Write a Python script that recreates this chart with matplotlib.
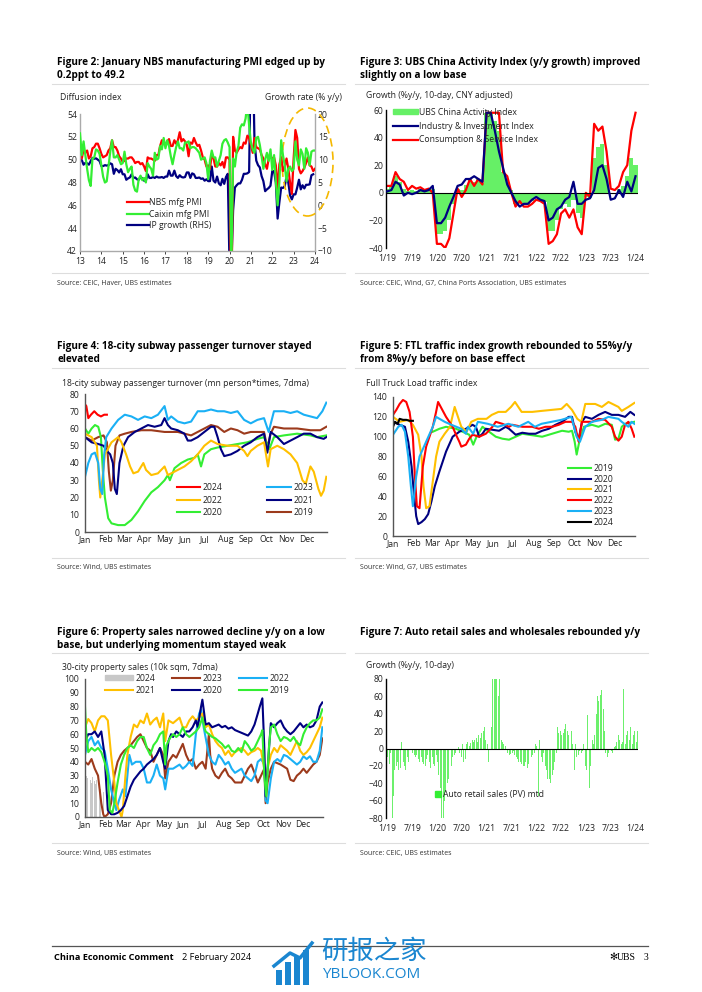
import numpy as np
import matplotlib
matplotlib.use("Agg")
import matplotlib.pyplot as plt
from matplotlib.lines import Line2D
from matplotlib.patches import Ellipse, Patch, Rectangle

plt.rcParams['font.family'] = ['Open Sans', 'DejaVu Sans']

# ---------------- data ----------------
# Fig 2: monthly, Jan 2013 .. Jan 2024
nbs_pmi = [50.4, 50.1, 50.9, 50.6, 50.8, 50.1, 50.3, 51.0, 51.1, 51.4, 51.4, 51.0,
           50.5, 50.2, 50.3, 50.4, 50.8, 51.0, 51.7, 51.1, 51.1, 50.8, 50.3, 50.1,
           49.8, 49.9, 50.1, 50.1, 50.2, 50.2, 50.0, 49.7, 49.8, 49.8, 49.6, 49.7,
           49.4, 49.0, 50.2, 50.1, 50.1, 50.0, 49.9, 50.4, 50.4, 51.2, 51.7, 51.4,
           51.3, 51.6, 51.8, 51.2, 51.2, 51.7, 51.4, 51.7, 52.4, 51.6, 51.8, 51.6,
           51.3, 50.3, 51.5, 51.4, 51.9, 51.5, 51.2, 51.3, 50.8, 50.2, 50.0, 49.4,
           49.5, 49.2, 50.5, 50.1, 49.4, 49.4, 49.7, 49.5, 49.8, 49.3, 50.2, 50.2,
           50.0, 35.7, 52.0, 50.8, 50.6, 50.9, 51.1, 51.0, 51.5, 51.4, 52.1, 51.9,
           51.3, 50.6, 51.9, 51.1, 51.0, 50.9, 50.4, 50.1, 49.6, 49.2, 50.1, 50.3,
           50.1, 50.2, 49.5, 47.4, 49.6, 50.2, 49.0, 49.4, 50.1, 49.2, 48.0, 47.0,
           50.1, 52.6, 51.9, 49.2, 48.8, 49.0, 49.3, 49.7, 50.2, 49.5, 49.4, 49.0,
           49.2]
caixin_pmi = [52.3, 50.4, 51.6, 50.4, 49.2, 48.2, 47.7, 50.1, 50.2, 50.9, 50.8, 50.5,
              49.5, 48.5, 48.0, 48.1, 49.4, 50.7, 51.7, 50.2, 50.2, 50.4, 50.0, 49.6,
              49.7, 50.7, 49.6, 48.9, 49.2, 49.4, 47.8, 47.3, 47.2, 48.3, 48.6, 48.2,
              48.4, 48.0, 49.7, 49.4, 49.2, 48.6, 50.6, 50.0, 50.1, 51.2, 50.9, 51.9,
              51.0, 51.7, 51.2, 50.3, 49.6, 50.4, 51.1, 51.6, 51.0, 51.0, 50.8, 51.5,
              51.5, 51.6, 51.0, 51.1, 51.1, 51.0, 50.8, 50.6, 50.0, 50.1, 50.2, 49.7,
              48.3, 49.9, 50.8, 50.2, 50.2, 49.4, 49.9, 50.4, 51.4, 51.7, 51.8, 51.5,
              51.1, 40.3, 50.1, 49.4, 50.7, 51.2, 52.8, 53.1, 53.0, 53.6, 54.9, 53.0,
              51.5, 50.9, 50.6, 51.9, 52.0, 51.3, 50.3, 49.2, 50.0, 50.6, 49.9, 50.9,
              49.1, 50.4, 48.1, 46.0, 48.1, 51.7, 50.4, 49.5, 48.1, 49.2, 49.4, 49.0,
              49.2, 51.6, 50.0, 49.5, 50.9, 50.5, 49.2, 51.0, 50.6, 49.5, 50.7, 50.8,
              50.8]
ip_growth = [9.9, 9.9, 8.9, 9.3, 9.2, 8.9, 9.7, 10.4, 10.2, 10.3, 10.0, 9.7,
             8.6, 8.6, 8.8, 8.7, 8.8, 9.2, 9.0, 6.9, 8.0, 7.7, 7.2, 7.9,
             6.8, 6.8, 5.6, 5.9, 6.1, 6.8, 6.0, 6.1, 5.7, 5.6, 6.2, 5.9,
             5.4, 5.4, 6.8, 6.0, 6.0, 6.2, 6.0, 6.3, 6.1, 6.1, 6.2, 6.0,
             6.3, 6.3, 7.6, 6.5, 6.5, 7.6, 6.4, 6.0, 6.6, 6.2, 6.1, 6.2,
             7.2, 7.2, 6.0, 7.0, 6.8, 6.0, 6.0, 6.1, 5.8, 5.9, 5.4, 5.7,
             5.3, 5.3, 8.5, 5.4, 5.0, 6.3, 4.8, 4.4, 5.8, 4.7, 6.2, 6.9,
             -13.5, -13.5, -1.1, 3.9, 4.4, 4.8, 4.8, 5.6, 6.9, 6.9, 7.0, 7.3,
             35.1, 35.1, 14.1, 9.8, 8.8, 8.3, 6.4, 5.3, 3.1, 3.5, 3.8, 4.3,
             7.5, 7.5, 5.0, -2.9, 0.7, 3.9, 3.8, 4.2, 6.3, 5.0, 2.2, 1.3,
             2.4, 2.4, 3.9, 5.6, 3.5, 4.4, 3.7, 4.5, 4.5, 4.6, 6.6, 6.8]
pmi_years = [str(y) for y in range(13, 25)]

# Fig 3: monthly, Jan 2019 .. Jan 2024
activity_idx = [3, 5, 12, 8, 3, 1, 2, 1, 3, 2, 2, 3,
                -30, -30, -28, -20, -8, 3, 2, 6, 10, 8, 10, 7,
                58, 58, 52, 45, 15, 10, 2, -8, -8, -9, -9, -6,
                -4, -5, -7, -28, -28, -20, -12, -8, -10, -5, -15, -18,
                -3, -4, 25, 33, 35, 20, 0, -1, 3, 5, 12, 25, 20]
industry_idx = [1, 2, 8, 6, -2, 0, -1, 0, 2, 1, 2, 5,
                -22, -22, -18, -10, -3, 5, 6, 10, 10, 12, 10, 8,
                58, 58, 45, 30, 18, 6, 0, -6, -10, -8, -8, -5,
                -3, -5, -6, -20, -18, -12, -10, -5, -3, 8, -8, -8,
                -5, -4, 2, 18, 20, 10, -5, -4, 2, -3, 8, 1, 12]
consumption_idx = [5, 5, 15, 10, 8, 2, 5, 3, 4, 2, 3, 0,
                   -37, -37, -40, -33, -15, 3, -3, 2, 10, 5, 10, 6,
                   58, 58, 58, 58, 15, 12, 0, -10, -6, -10, -10, -8,
                   -5, -6, -8, -37, -35, -30, -15, -12, -18, -12, -25, -30,
                   0, -3, 50, 45, 48, 30, 3, 2, 5, 15, 20, 45, 58]
ym_labels = ['1/19', '7/19', '1/20', '7/20', '1/21', '7/21', '1/22', '7/22', '1/23', '7/23', '1/24']

# Fig 4-6: (day of year, value)
month_names = ['Jan', 'Feb', 'Mar', 'Apr', 'May', 'Jun', 'Jul', 'Aug', 'Sep', 'Oct', 'Nov', 'Dec']
month_start = [0, 31, 59, 90, 120, 151, 181, 212, 243, 273, 304, 334]

subway_2024 = [(0, 74), (2, 73), (5, 66), (9, 68), (14, 70), (19, 68), (24, 67), (29, 68), (33, 68)]
subway_2023 = [(0, 32), (5, 40), (10, 45), (15, 46), (20, 40), (23, 25), (26, 22), (29, 45), (32, 55),
               (40, 60), (50, 65), (60, 68), (70, 67), (80, 65), (90, 67), (100, 66), (110, 68), (120, 73),
               (125, 65), (130, 67), (140, 64), (150, 63), (160, 64), (170, 70), (180, 70), (190, 71),
               (200, 70), (210, 70), (220, 69), (230, 70), (240, 65), (250, 63), (260, 65), (270, 66),
               (277, 58), (285, 70), (300, 70), (310, 69), (320, 70), (330, 68), (340, 67), (350, 66),
               (358, 70), (364, 75)]
subway_2022 = [(0, 57), (10, 55), (18, 50), (21, 30), (23, 20), (26, 30), (30, 45), (40, 52), (50, 55),
               (55, 52), (62, 45), (68, 38), (73, 34), (80, 35), (88, 40), (92, 36), (100, 33), (110, 34),
               (120, 38), (125, 33), (135, 35), (150, 38), (160, 41), (170, 45), (180, 50), (190, 53),
               (200, 51), (215, 50), (230, 50), (240, 47), (245, 44), (250, 47), (260, 50), (270, 52),
               (276, 38), (280, 48), (290, 50), (300, 48), (310, 45), (320, 40), (328, 30), (333, 28),
               (340, 38), (345, 35), (352, 25), (356, 21), (360, 24), (364, 32)]
subway_2021 = [(0, 55), (10, 52), (20, 51), (28, 50), (33, 47), (38, 45), (42, 40), (45, 25), (48, 22),
               (52, 40), (58, 50), (65, 55), (75, 58), (85, 60), (95, 62), (105, 61), (115, 62), (120, 66),
               (125, 62), (130, 60), (140, 59), (150, 57), (155, 53), (160, 53), (170, 55), (180, 58),
               (190, 61), (195, 61), (200, 55), (205, 48), (210, 44), (220, 45), (230, 47), (240, 50),
               (250, 52), (260, 55), (270, 57), (275, 46), (280, 58), (290, 55), (300, 51), (310, 53),
               (320, 55), (330, 57), (340, 57), (350, 55), (360, 54), (364, 55)]
subway_2020 = [(0, 60), (5, 57), (10, 60), (15, 62), (20, 61), (24, 55), (27, 35), (30, 20), (35, 8),
               (40, 5), (50, 4), (60, 4), (70, 7), (80, 12), (90, 18), (100, 23), (110, 26), (115, 28),
               (120, 30), (125, 33), (128, 30), (135, 37), (145, 40), (155, 42), (165, 43), (170, 45),
               (175, 38), (180, 45), (190, 48), (200, 49), (215, 50), (230, 51), (245, 52), (260, 54),
               (270, 55), (278, 48), (285, 55), (300, 56), (320, 57), (340, 56), (350, 55), (364, 56)]
subway_2019 = [(0, 55), (10, 53), (20, 55), (28, 56), (33, 52), (36, 35), (39, 24), (42, 30), (46, 50),
               (52, 56), (60, 57), (70, 58), (85, 59), (100, 59), (120, 58), (140, 58), (150, 57),
               (160, 56), (170, 58), (180, 60), (190, 62), (200, 61), (210, 58), (220, 60), (230, 59),
               (240, 57), (250, 58), (260, 58), (270, 58), (275, 49), (280, 57), (285, 61), (300, 60),
               (320, 60), (340, 59), (355, 59), (364, 61)]

ftl_2019 = [(60, 105), (70, 108), (80, 110), (95, 108), (105, 105), (115, 102), (121, 92), (126, 100),
            (135, 110), (145, 105), (155, 100), (165, 98), (175, 97), (185, 100), (195, 103), (205, 102),
            (215, 101), (225, 100), (235, 102), (245, 104), (255, 106), (265, 105), (270, 106), (274, 95),
            (277, 82), (281, 95), (288, 110), (300, 112), (310, 110), (320, 113), (330, 112), (335, 97),
            (340, 98), (345, 110), (350, 113), (364, 115)]
ftl_2020 = [(0, 115), (10, 112), (18, 110), (23, 95), (28, 70), (32, 40), (35, 20), (38, 12), (43, 14),
            (48, 17), (53, 22), (58, 35), (63, 50), (70, 65), (80, 85), (90, 100), (100, 105), (110, 108),
            (120, 112), (125, 110), (130, 100), (135, 103), (140, 108), (150, 107), (160, 106), (170, 110),
            (175, 108), (185, 102), (195, 104), (205, 103), (215, 103), (225, 106), (235, 108), (245, 112),
            (255, 115), (265, 120), (270, 120), (275, 105), (280, 97), (285, 115), (290, 120), (300, 118),
            (310, 122), (320, 125), (330, 122), (340, 122), (350, 120), (358, 125), (364, 122)]
ftl_2021 = [(0, 120), (10, 115), (23, 117), (30, 112), (38, 102), (43, 80), (46, 50), (50, 28), (55, 30),
            (60, 55), (65, 80), (70, 95), (78, 103), (86, 110), (93, 130), (98, 120), (103, 110), (111, 105),
            (118, 115), (128, 118), (141, 118), (149, 122), (159, 125), (170, 125), (178, 130), (184, 135),
            (194, 125), (210, 125), (224, 126), (239, 127), (254, 128), (262, 133), (270, 127), (278, 118),
            (284, 115), (290, 133), (305, 133), (315, 130), (325, 135), (340, 130), (345, 126), (355, 130),
            (364, 134)]
ftl_2022 = [(0, 122), (5, 127), (10, 133), (15, 137), (20, 135), (25, 125), (30, 100), (33, 60), (36, 30),
            (40, 28), (45, 70), (50, 90), (55, 100), (60, 110), (65, 125), (68, 135), (72, 130), (80, 120),
            (90, 110), (95, 102), (100, 95), (103, 90), (110, 92), (115, 98), (120, 102), (130, 100),
            (140, 103), (150, 110), (155, 115), (165, 113), (175, 110), (180, 112), (195, 110), (210, 110),
            (220, 108), (230, 110), (240, 110), (250, 112), (260, 115), (270, 115), (275, 110), (280, 95),
            (285, 115), (300, 115), (310, 118), (320, 117), (330, 110), (335, 100), (340, 96), (345, 100),
            (350, 112), (355, 115), (360, 108), (364, 100)]
ftl_2023 = [(0, 102), (8, 110), (13, 112), (18, 105), (23, 80), (27, 50), (30, 30), (35, 60), (40, 80),
            (50, 95), (60, 110), (65, 120), (78, 115), (88, 112), (103, 108), (110, 103), (113, 110),
            (121, 103), (128, 115), (143, 113), (158, 110), (174, 113), (189, 110), (204, 115), (214, 110),
            (224, 113), (239, 115), (254, 117), (269, 120), (277, 100), (282, 95), (290, 110), (300, 115),
            (315, 117), (325, 120), (340, 118), (345, 115), (355, 110), (360, 115), (364, 113)]
ftl_2024 = [(0, 110), (3, 115), (7, 113), (10, 118), (15, 117), (20, 117), (25, 116), (30, 116)]

prop_2024 = [(0, 38), (2, 30), (4, 28), (6, 32), (8, 27), (10, 25), (12, 29), (14, 26), (16, 24),
             (18, 27), (20, 22), (22, 25), (24, 20), (26, 22), (28, 18)]
prop_2023 = [(0, 40), (5, 38), (10, 42), (15, 35), (20, 30), (25, 10), (28, 2), (30, 0), (35, 2), (40, 10),
             (45, 30), (50, 40), (55, 45), (60, 48), (65, 50), (70, 52), (75, 55), (80, 58), (85, 60),
             (90, 55), (95, 50), (100, 48), (105, 40), (110, 45), (115, 50), (120, 45), (123, 28), (128, 40),
             (135, 45), (140, 43), (145, 48), (150, 53), (155, 45), (160, 40), (165, 42), (170, 35), (175, 38),
             (180, 40), (185, 35), (190, 60), (192, 45), (195, 35), (200, 30), (205, 28), (210, 32), (215, 35),
             (220, 30), (225, 28), (230, 25), (240, 25), (245, 30), (250, 35), (255, 38), (260, 32), (265, 25),
             (270, 30), (275, 35), (277, 10), (280, 25), (285, 35), (290, 40), (300, 38), (310, 35), (315, 27),
             (320, 26), (325, 30), (330, 32), (335, 35), (340, 32), (345, 35), (350, 38), (355, 40), (360, 45),
             (364, 57)]
prop_2022 = [(0, 45), (5, 55), (10, 58), (15, 52), (20, 55), (25, 50), (30, 48), (35, 35), (40, 20), (45, 10),
             (48, 5), (52, 12), (58, 20), (62, 15), (68, 45), (72, 38), (78, 40), (85, 40), (90, 35), (95, 25),
             (100, 25), (105, 30), (110, 38), (115, 30), (120, 28), (123, 20), (128, 35), (135, 35), (145, 38),
             (150, 35), (155, 37), (160, 40), (165, 37), (170, 60), (175, 75), (178, 78), (182, 65), (186, 55),
             (190, 45), (195, 40), (200, 38), (205, 45), (210, 42), (215, 38), (220, 40), (225, 35), (230, 32),
             (240, 35), (245, 30), (250, 28), (255, 26), (260, 30), (265, 40), (270, 42), (275, 38), (277, 12),
             (280, 10), (285, 28), (290, 40), (295, 42), (300, 40), (305, 45), (310, 44), (315, 42), (320, 40),
             (325, 38), (330, 40), (335, 44), (340, 42), (345, 44), (350, 40), (355, 40), (360, 48), (364, 65)]
prop_2021 = [(0, 65), (5, 71), (10, 68), (15, 62), (20, 70), (25, 73), (30, 73), (35, 70), (40, 45), (45, 25),
             (48, 10), (52, 5), (56, 0), (58, 5), (62, 30), (65, 45), (70, 58), (75, 67), (80, 65), (85, 70),
             (90, 68), (95, 75), (100, 67), (105, 70), (110, 72), (115, 65), (120, 75), (123, 55), (128, 70),
             (135, 68), (140, 70), (145, 72), (150, 65), (155, 65), (160, 70), (165, 73), (170, 70), (175, 72),
             (180, 75), (185, 65), (190, 67), (195, 60), (200, 55), (205, 52), (210, 50), (215, 45), (220, 48),
             (225, 44), (230, 47), (240, 50), (245, 48), (250, 45), (255, 47), (260, 48), (265, 50), (270, 48),
             (275, 35), (277, 20), (280, 35), (285, 45), (290, 50), (295, 47), (300, 52), (305, 50), (310, 48),
             (315, 45), (320, 50), (325, 55), (330, 48), (335, 45), (340, 47), (345, 50), (350, 55), (355, 60),
             (360, 65), (364, 72)]
prop_2020 = [(0, 55), (5, 60), (10, 60), (15, 62), (20, 58), (25, 62), (30, 45), (35, 5), (40, 2), (45, 2),
             (50, 3), (55, 5), (60, 8), (65, 15), (70, 22), (75, 27), (80, 30), (85, 33), (90, 35), (95, 38),
             (100, 40), (105, 42), (110, 45), (115, 50), (120, 40), (123, 35), (128, 55), (132, 60), (135, 58),
             (140, 62), (145, 60), (150, 58), (155, 62), (160, 62), (165, 65), (170, 70), (173, 65), (178, 80),
             (180, 85), (182, 78), (185, 67), (190, 68), (195, 65), (200, 66), (205, 67), (210, 65), (215, 66),
             (220, 64), (225, 65), (230, 63), (240, 61), (245, 60), (250, 59), (255, 62), (260, 67), (265, 75),
             (268, 80), (272, 86), (275, 50), (277, 15), (280, 35), (285, 68), (290, 65), (295, 68), (300, 70),
             (305, 65), (310, 62), (315, 60), (320, 62), (325, 65), (330, 68), (335, 65), (340, 67), (345, 65),
             (350, 66), (355, 70), (360, 80), (364, 83)]
prop_2019 = [(0, 80), (2, 60), (5, 47), (10, 50), (15, 48), (20, 50), (25, 47), (30, 40), (35, 30), (38, 5),
             (42, 3), (45, 10), (50, 25), (55, 38), (60, 45), (65, 50), (70, 52), (75, 50), (80, 55), (85, 58),
             (90, 58), (95, 50), (100, 45), (105, 52), (110, 55), (115, 60), (120, 62), (123, 38), (125, 52),
             (130, 57), (135, 60), (140, 58), (145, 60), (150, 65), (155, 60), (160, 58), (165, 60), (170, 62),
             (175, 65), (180, 72), (183, 65), (185, 62), (190, 60), (195, 58), (200, 57), (205, 55), (210, 53),
             (215, 50), (220, 52), (225, 48), (230, 47), (235, 50), (240, 47), (245, 55), (250, 52), (255, 48),
             (260, 50), (265, 55), (270, 60), (272, 63), (275, 30), (278, 15), (282, 50), (285, 65), (290, 67),
             (295, 60), (300, 55), (305, 58), (310, 57), (315, 55), (320, 58), (325, 54), (330, 52), (335, 60),
             (340, 65), (345, 68), (350, 70), (355, 70), (360, 72), (364, 78)]

# Fig 7: 10-day periods, Jan 2019 .. Jan 2024 (3 per month)
auto_retail = [-10, -18, -5, -80, -55, -25, -20, -15, -25, -22, 8, -15,
               -20, -25, -10, -15, -22, 0, -5, -8, -10, -8, -12, -15,
               -10, -15, -18, -20, -12, -8, -15, -22, -10, -18, -20, -8,
               -15, -30, -45, -80, -80, -60, -50, -40, -35, -30, -20, -10,
               -8, -5, 0, 2, -5, -10, 5, -15, -12, 5, 8, 3,
               6, 10, 8, 10, 12, 8, 15, 12, 18, 20, 25, 10,
               5, -15, 2, 25, 80, 80, 80, 80, 60, 80, 10, 8,
               5, 3, 0, -5, -8, -6, -5, -3, -8, -10, -12, -15,
               -15, -18, -20, -20, -15, -22, -18, -12, -10, -8, -5, 5,
               3, -55, 10, -10, -15, -5, -20, -25, -35, -35, -40, -30,
               -25, -15, -5, 25, 18, 20, 15, 18, 22, 28, 20, 15,
               10, 20, 5, -25, 5, -10, -8, -3, -5, -3, 5, -20,
               -25, 38, -45, -20, 10, 5, 15, 40, 60, 55, 62, 67,
               45, 20, -5, -10, -5, -8, -3, -5, 2, 3, 8, 15,
               10, 5, 8, 68, 5, 15, 20, 10, 25, 5, 15, 20,
               8, 20, 63]

# ---------------- style ----------------
RED = '#ff0000'
NAVY = '#000080'
GREEN = '#33ee33'
LBLUE = '#1ab0f5'
ORANGE = '#ffc000'
BROWN = '#9c3a1c'
TXT = '#222222'
FS = 6.2
W, H = 702, 992

fig = plt.figure(figsize=(W / 100, H / 100), dpi=100)


def add_ax(l, t, r, b):
    return fig.add_axes([l / W, 1 - b / H, (r - l) / W, (b - t) / H])


def ftext(x, y, s, **kw):
    kw.setdefault('va', 'center')
    kw.setdefault('color', TXT)
    return fig.text(x / W, 1 - y / H, s, **kw)


def hline(x0, x1, y, color='#dddddd', lw=0.8):
    fig.add_artist(Line2D([x0 / W, x1 / W], [1 - y / H] * 2, transform=fig.transFigure,
                          color=color, lw=lw))


def frame(x0, title, title_y, sep_y, src, src_y):
    ftext(x0, title_y, title, fontsize=7.2, fontweight='bold', color='black',
          va='top', linespacing=1.2)
    hline(x0 - 5, x0 + 288, sep_y)
    hline(x0 - 5, x0 + 288, src_y - 10)
    ftext(x0, src_y, src, fontsize=5.0, color='#333333')


def style_ax(ax, spine_color='#555555'):
    for s in ['top', 'right']:
        ax.spines[s].set_visible(False)
    for s in ['left', 'bottom']:
        ax.spines[s].set_color(spine_color)
        ax.spines[s].set_linewidth(1.0)
    ax.tick_params(labelsize=FS, colors=TXT, length=2, width=0.6, pad=2)
    ax.patch.set_alpha(0)


def leg(ax, handles, labels, x, y, **kw):
    opts = dict(loc='upper left', bbox_to_anchor=(x / W, 1 - y / H), bbox_transform=fig.transFigure,
                frameon=False, fontsize=FS, handlelength=2.6, handletextpad=0.3,
                labelspacing=0.25, borderpad=0, borderaxespad=0)
    opts.update(kw)
    lg = ax.legend(handles, labels, **opts)
    for t in lg.get_texts():
        t.set_color(TXT)
    return lg


def xy(pairs):
    a = np.array(pairs, dtype=float)
    return a[:, 0], a[:, 1]


# ---------------- Figure 2 ----------------
frame(57, 'Figure 2: January NBS manufacturing PMI edged up by\n0.2ppt to 49.2', 57, 84,
      'Source: CEIC, Haver, UBS estimates', 283)
ftext(60, 98, 'Diffusion index', fontsize=FS)
ftext(342, 98, 'Growth rate (% y/y)', fontsize=FS, ha='right')
ax2 = add_ax(80, 114, 315, 251)
mx = 13 + np.arange(len(nbs_pmi)) / 12
ax2r = ax2.twinx()
l_ip, = ax2r.plot(13 + np.arange(len(ip_growth)) / 12, ip_growth, color=NAVY, lw=1.6)
l_cx, = ax2.plot(mx, caixin_pmi, color=GREEN, lw=1.6, zorder=3)
l_nbs, = ax2.plot(mx, nbs_pmi, color=RED, lw=1.6, zorder=2)
ax2.set_zorder(ax2r.get_zorder() + 1)
ax2.set_xlim(13, 24)
ax2.set_ylim(42, 54)
ax2.set_yticks(np.arange(42, 55, 2))
ax2r.set_ylim(-10, 20)
ax2r.set_yticks(np.arange(-10, 21, 5))
ax2.set_xticks(range(13, 25))
ax2.set_xticklabels(pmi_years)
style_ax(ax2, '#aaaaaa')
for s in ['top', 'left', 'bottom']:
    ax2r.spines[s].set_visible(False)
ax2r.spines['right'].set_color('#aaaaaa')
ax2r.spines['right'].set_linewidth(1.0)
ax2r.tick_params(labelsize=FS, colors=TXT, length=0, pad=2)
ax2.tick_params(axis='y', length=0)
leg(ax2, [l_nbs, l_cx, l_ip], ['NBS mfg PMI', 'Caixin mfg PMI', 'IP growth (RHS)'], 127, 198,
    handlelength=2.5, handletextpad=0.1, labelspacing=0.3)
fig.add_artist(Ellipse(((282 + 333) / 2 / W, 1 - (108 + 216) / 2 / H), 51 / W, 108 / H,
                       transform=fig.transFigure, fill=False, edgecolor='#f5b800',
                       lw=1.2, ls=(0, (5, 3))))

# ---------------- Figure 3 ----------------
frame(360, 'Figure 3: UBS China Activity Index (y/y growth) improved\nslightly on a low base', 57, 84,
      'Source: CEIC, Wind, G7, China Ports Association, UBS estimates', 283)
ftext(366, 96, 'Growth (%y/y, 10-day, CNY adjusted)', fontsize=FS)
ax3 = add_ax(386, 110, 638, 248)
m3 = np.arange(len(activity_idx))
b3 = ax3.bar(m3, activity_idx, width=1.0, color='#66f066', edgecolor='none', zorder=1)
l3i, = ax3.plot(m3, industry_idx, color=NAVY, lw=1.6, zorder=3)
l3c, = ax3.plot(m3, consumption_idx, color=RED, lw=1.6, zorder=2)
ax3.axhline(0, color='black', lw=0.8, zorder=2)
ax3.set_xlim(-0.3, 60.6)
ax3.set_ylim(-40, 60)
ax3.set_yticks([-40, -20, 0, 20, 40, 60])
ax3.set_xticks(np.arange(0, 61, 6))
ax3.set_xticklabels(ym_labels)
style_ax(ax3, 'black')
ax3.spines['bottom'].set_visible(False)
ax3.tick_params(axis='x', length=0, pad=4)
ax3.tick_params(axis='y', length=0)
leg(ax3, [Patch(color='#66f066'), l3i, l3c],
    ['UBS China Activity Index', 'Industry & Investment Index', 'Consumption & Service Index'], 393, 108,
    handlelength=2.9, handleheight=0.5, handletextpad=0.15, labelspacing=0.55)

# ---------------- Figure 4 ----------------
frame(57, 'Figure 4: 18-city subway passenger turnover stayed\nelevated', 341, 368,
      'Source: Wind, UBS estimates', 568)
ftext(62, 383, '18-city subway passenger turnover (mn person*times, 7dma)', fontsize=FS)
ax4 = add_ax(85, 394, 327, 532)
sub_series = [(subway_2019, BROWN, '2019'), (subway_2020, GREEN, '2020'), (subway_2021, NAVY, '2021'),
              (subway_2022, ORANGE, '2022'), (subway_2023, LBLUE, '2023'), (subway_2024, RED, '2024')]
h4 = {}
for data, c, lab in sub_series:
    x, y = xy(data)
    h4[lab], = ax4.plot(x, y, color=c, lw=1.5)
ax4.set_xlim(0, 365)
ax4.set_ylim(0, 80)
ax4.set_yticks(range(0, 81, 10))
ax4.set_xticks(month_start)
ax4.set_xticklabels(month_names)
style_ax(ax4)
ax4.tick_params(length=0)
ax4.tick_params(axis='y', pad=4)
order4 = ['2024', '2022', '2020', '2023', '2021', '2019']
leg(ax4, [h4[k] for k in order4], order4, 177, 483, ncol=2, columnspacing=5.2,
    handlelength=2.7, labelspacing=0.42)

# ---------------- Figure 5 ----------------
frame(360, 'Figure 5: FTL traffic index growth rebounded to 55%y/y\nfrom 8%y/y before on base effect', 341, 368,
      'Source: Wind, G7, UBS estimates', 568)
ftext(366, 383, 'Full Truck Load traffic index', fontsize=FS)
ax5 = add_ax(393, 397, 635, 536)
ftl_series = [(ftl_2019, GREEN, '2019'), (ftl_2020, NAVY, '2020'), (ftl_2021, ORANGE, '2021'),
              (ftl_2022, RED, '2022'), (ftl_2023, LBLUE, '2023'), (ftl_2024, 'black', '2024')]
h5 = []
for data, c, lab in ftl_series:
    x, y = xy(data)
    ln, = ax5.plot(x, y, color=c, lw=1.5)
    h5.append(ln)
ax5.set_xlim(0, 365)
ax5.set_ylim(0, 140)
ax5.set_yticks(range(0, 141, 20))
ax5.set_xticks(month_start)
ax5.set_xticklabels(month_names)
style_ax(ax5)
ax5.tick_params(length=0)
ax5.tick_params(axis='y', pad=4)
leg(ax5, h5, [s[2] for s in ftl_series], 568, 464, handlelength=2.7, labelspacing=0.2)

# ---------------- Figure 6 ----------------
frame(57, 'Figure 6: Property sales narrowed decline y/y on a low\nbase, but underlying momentum stayed weak', 627, 653,
      'Source: Wind, UBS estimates', 853)
ftext(62, 667, '30-city property sales (10k sqm, 7dma)', fontsize=FS)
ax6 = add_ax(85, 679, 323, 817)
x, y = xy(prop_2024)
ax6.bar(x, y, width=1.2, color='#c8c8c8', edgecolor='none', zorder=1)
prop_series = [(prop_2023, BROWN, '2023'), (prop_2022, LBLUE, '2022'), (prop_2021, ORANGE, '2021'),
               (prop_2020, NAVY, '2020'), (prop_2019, GREEN, '2019')]
h6 = {'2024': Patch(color='#c8c8c8')}
for data, c, lab in prop_series:
    x, y = xy(data)
    h6[lab], = ax6.plot(x, y, color=c, lw=1.5, zorder=2)
ax6.set_xlim(0, 365)
ax6.set_ylim(0, 100)
ax6.set_yticks(range(0, 101, 10))
ax6.set_xticks(month_start)
ax6.set_xticklabels(month_names)
style_ax(ax6)
ax6.tick_params(length=0)
ax6.tick_params(axis='y', pad=4)
order6 = ['2024', '2021', '2023', '2020', '2022', '2019']
leg(ax6, [h6[k] for k in order6], order6, 105, 674, ncol=3, columnspacing=2.0,
    handlelength=3.2, handleheight=0.5, labelspacing=0.35)

# ---------------- Figure 7 ----------------
frame(360, 'Figure 7: Auto retail sales and wholesales rebounded y/y', 627, 653,
      'Source: CEIC, UBS estimates', 853)
ftext(366, 665, 'Growth (%y/y, 10-day)', fontsize=FS)
ax7 = add_ax(386, 679, 638, 818)
m7 = np.arange(len(auto_retail)) / 3 + 1 / 6
ax7.bar(m7, auto_retail, width=0.24, color='#6cf06c', edgecolor='none')
ax7.axhline(0, color='black', lw=0.8)
ax7.set_xlim(-0.3, 60.6)
ax7.set_ylim(-80, 80)
ax7.set_yticks(range(-80, 81, 20))
ax7.set_xticks(np.arange(0, 61, 6))
ax7.set_xticklabels(ym_labels)
style_ax(ax7, 'black')
ax7.spines['bottom'].set_visible(False)
ax7.tick_params(axis='x', length=0, pad=4)
ax7.tick_params(axis='y', length=0)
leg(ax7, [Line2D([], [], ls='none', marker='s', color='#33ee33', markersize=4.5)],
    ['Auto retail sales (PV) mtd'], 434, 790, handlelength=1.0, handletextpad=0.1)

# ---------------- footer ----------------
hline(52, 648, 946, color='#555555', lw=0.9)
ftext(54, 957, 'China Economic Comment', fontsize=6.6, fontweight='bold', color='black')
ftext(182, 957, '2 February 2024', fontsize=6.6, color='black')
ftext(636, 957, 'UBS', fontsize=7.0, color='black', ha='right', family=['Liberation Serif', 'DejaVu Serif'])
ftext(648, 957, '3', fontsize=7.0, color='black', ha='right', family=['Liberation Serif', 'DejaVu Serif'])
ftext(617, 957, '\u273b', fontsize=7.0, color='black', ha='right', family=['DejaVu Sans'])
# watermark
WM = '#1a86d0'
for bx, btop in [(276, 970), (285, 962), (294, 956), (303, 950)]:
    fig.add_artist(Rectangle((bx / W, 1 - 985 / H), 6 / W, (985 - btop) / H, transform=fig.transFigure,
                             color=WM, lw=0))
fig.add_artist(Line2D([274 / W, 290 / W, 300 / W, 312 / W], [1 - 966 / H, 1 - 953 / H, 1 - 958 / H, 1 - 943 / H],
                      transform=fig.transFigure, color=WM, lw=2.5))
ftext(321, 951, '研报之家', fontsize=19, color=WM, family=['Noto Sans CJK SC', 'DejaVu Sans'])
ftext(322, 975, 'YBLOOK.COM', fontsize=11, color=WM)

fig.savefig('out.png', dpi=100)
